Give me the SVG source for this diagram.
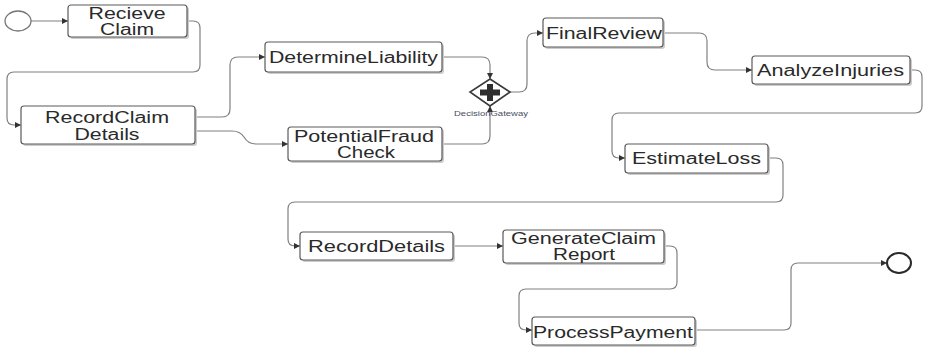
<svg xmlns="http://www.w3.org/2000/svg" width="925" height="350" viewBox="0 0 925 350">
  <style>
    .task rect.box { fill: #ffffff; stroke: #5a5a5a; stroke-width: 1.2; }
    .task rect.shadow { fill: #cccccc; }
    .task text { font-family: "Liberation Sans", Arial, sans-serif; font-size: 16px; fill: #2a2a2a; text-anchor: middle; }
    .flow path { fill: none; stroke: #808080; stroke-width: 1.2; }
    .event { fill: #ffffff; }
    .gw-label { font-family: "Liberation Sans", Arial, sans-serif; font-size: 7.5px; fill: #4a4f63; text-anchor: middle; }
  </style>
  <defs>
    <marker id="arrow" markerUnits="userSpaceOnUse" markerWidth="7" markerHeight="6" refX="6" refY="3" orient="auto">
      <path d="M0,0 L6,3 L0,6 z" fill="#333333"/>
    </marker>
  </defs>

  <rect width="925" height="350" fill="#ffffff"/>

  <!-- sequence flows -->
  <g id="connectors" class="flow">
    <path marker-end="url(#arrow)" d="M31,21 H68"/>
    <path marker-end="url(#arrow)" d="M187,21 H193 Q200,21 200,28 V65 Q200,72 193,72 H14 Q7,72 7,79 V118 Q7,125 14,125 H21"/>
    <path marker-end="url(#arrow)" d="M195,117 H222 Q230,117 230,109 V65 Q230,57 238,57 H265"/>
    <path marker-end="url(#arrow)" d="M195,131 H232 Q240,131 244,137 Q248,144 256,144 H288"/>
    <path marker-end="url(#arrow)" d="M442,57 H482 Q490,57 490,65 V79"/>
    <path marker-end="url(#arrow)" d="M442,144 H482 Q490,144 490,136 V106"/>
    <path marker-end="url(#arrow)" d="M510,92 H519 Q527,92 527,84 V41 Q527,33 535,33 H543"/>
    <path marker-end="url(#arrow)" d="M663,33 H699 Q707,33 707,41 V62 Q707,70 715,70 H752"/>
    <path marker-end="url(#arrow)" d="M910,70 H915 Q922,70 922,77 V106 Q922,113 915,113 H619 Q612,113 612,120 V151 Q612,158 619,158 H625"/>
    <path marker-end="url(#arrow)" d="M768,158 H776 Q783,158 783,165 V195 Q783,202 776,202 H295 Q288,202 288,209 V239 Q288,246 295,246 H300"/>
    <path marker-end="url(#arrow)" d="M453,246 H503"/>
    <path marker-end="url(#arrow)" d="M664,246 H670 Q677,246 677,253 V282 Q677,289 670,289 H526 Q519,289 519,296 V323 Q519,330 526,330 H532"/>
    <path marker-end="url(#arrow)" d="M695,330 H784 Q791,330 791,323 V270 Q791,263 798,263 H887"/>
  </g>

  <!-- events -->
  <g id="start">
    <ellipse class="event" cx="18" cy="21" rx="13" ry="10" stroke="#777777" stroke-width="1.3"/>
  </g>
  <g id="end">
    <ellipse class="event" cx="899" cy="263" rx="12" ry="10" stroke="#2a2a2a" stroke-width="2"/>
  </g>

  <!-- tasks -->
  <g id="recieve-claim" class="task">
    <rect class="shadow" x="70" y="7" width="119" height="32" rx="3"/>
    <rect class="box" x="68" y="5" width="119" height="32" rx="3"/>
    <text x="127" y="18.5" textLength="77" lengthAdjust="spacingAndGlyphs">Recieve</text>
    <text x="127" y="35" textLength="54" lengthAdjust="spacingAndGlyphs">Claim</text>
  </g>
  <g id="record-claim-details" class="task">
    <rect class="shadow" x="23" y="108" width="174" height="38" rx="3"/>
    <rect class="box" x="21" y="106" width="174" height="38" rx="3"/>
    <text x="107" y="123" textLength="124" lengthAdjust="spacingAndGlyphs">RecordClaim</text>
    <text x="107" y="139.5" textLength="65" lengthAdjust="spacingAndGlyphs">Details</text>
  </g>
  <g id="determine-liability" class="task">
    <rect class="shadow" x="267" y="44" width="177" height="30" rx="3"/>
    <rect class="box" x="265" y="42" width="177" height="30" rx="3"/>
    <text x="353.5" y="62.5" textLength="169" lengthAdjust="spacingAndGlyphs">DetermineLiability</text>
  </g>
  <g id="potential-fraud-check" class="task">
    <rect class="shadow" x="290" y="129" width="154" height="34" rx="3"/>
    <rect class="box" x="288" y="127" width="154" height="34" rx="3"/>
    <text x="364" y="142" textLength="140" lengthAdjust="spacingAndGlyphs">PotentialFraud</text>
    <text x="366" y="157.5" textLength="58" lengthAdjust="spacingAndGlyphs">Check</text>
  </g>
  <g id="final-review" class="task">
    <rect class="shadow" x="545" y="20" width="120" height="29" rx="3"/>
    <rect class="box" x="543" y="18" width="120" height="29" rx="3"/>
    <text x="604" y="38.5" textLength="116" lengthAdjust="spacingAndGlyphs">FinalReview</text>
  </g>
  <g id="analyze-injuries" class="task">
    <rect class="shadow" x="754" y="58" width="158" height="28" rx="3"/>
    <rect class="box" x="752" y="56" width="158" height="28" rx="3"/>
    <text x="830.5" y="76" textLength="147" lengthAdjust="spacingAndGlyphs">AnalyzeInjuries</text>
  </g>
  <g id="estimate-loss" class="task">
    <rect class="shadow" x="627" y="146" width="143" height="29" rx="3"/>
    <rect class="box" x="625" y="144" width="143" height="29" rx="3"/>
    <text x="696.5" y="163.5" textLength="129" lengthAdjust="spacingAndGlyphs">EstimateLoss</text>
  </g>
  <g id="record-details" class="task">
    <rect class="shadow" x="302" y="234" width="153" height="28" rx="3"/>
    <rect class="box" x="300" y="232" width="153" height="28" rx="3"/>
    <text x="376.5" y="251.5" textLength="137" lengthAdjust="spacingAndGlyphs">RecordDetails</text>
  </g>
  <g id="generate-claim-report" class="task">
    <rect class="shadow" x="505" y="232" width="161" height="33" rx="3"/>
    <rect class="box" x="503" y="230" width="161" height="33" rx="3"/>
    <text x="583.5" y="244" textLength="145" lengthAdjust="spacingAndGlyphs">GenerateClaim</text>
    <text x="584" y="260" textLength="62" lengthAdjust="spacingAndGlyphs">Report</text>
  </g>
  <g id="process-payment" class="task">
    <rect class="shadow" x="534" y="319" width="163" height="28" rx="3"/>
    <rect class="box" x="532" y="317" width="163" height="28" rx="3"/>
    <text x="613" y="338" textLength="160" lengthAdjust="spacingAndGlyphs">ProcessPayment</text>
  </g>

  <!-- parallel gateway -->
  <g id="decision-gateway">
    <polygon points="490,79 510,92 490,106 470,92" fill="#ffffff" stroke="#3a3a3a" stroke-width="1.6"/>
    <path d="M487,84 H493 V89.5 H500 V95.5 H493 V101 H487 V95.5 H480 V89.5 H487 z" fill="#2e2e2e"/>
    <text class="gw-label" x="491" y="116" textLength="74" lengthAdjust="spacingAndGlyphs">DecisionGateway</text>
  </g>
</svg>
